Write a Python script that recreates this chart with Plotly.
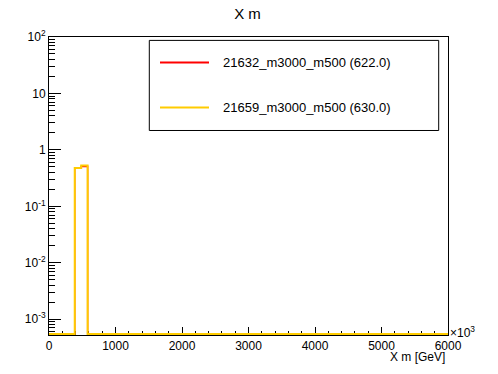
import math
import plotly.graph_objects as go

# ---- data ----
bin_edges = [0, 387, 484, 581, 6000]          # GeV
red_counts = [0, 0.477, 0.508, 0]             # 21632_m3000_m500
yellow_counts = [0, 0.477, 0.531, 0]          # 21659_m3000_m500
series_names = ["21632_m3000_m500 (622.0)", "21659_m3000_m500 (630.0)"]
series_colors = ["#ff0000", "#ffcc00"]
x_ticks = [0, 1000, 2000, 3000, 4000, 5000, 6000]
y_major = [1e-3, 1e-2, 1e-1, 1, 10, 100]
y_major_text = ["10<sup>-3</sup>", "10<sup>-2</sup>", "10<sup>-1</sup>", "1", "10", "10<sup>2</sup>"]

W, H = 498, 374
L, R, T, B = 49, 448, 37.3, 335
y_lo, y_hi = -3.279, 2.0
FONT = "Liberation Sans, Arial, Helvetica, sans-serif"

# zero bins are drawn at the bottom of the frame (ROOT log-scale style)
base = 10 ** (y_lo + 1.0 * (y_hi - y_lo) / (B - T))


def step_y(counts):
    ys = [c if c > 0 else base for c in counts]
    return ys + [ys[-1]]


def px(xp):
    return (xp - L) / (R - L)


def py(yp):
    return (B - yp) / (B - T)


fig = go.Figure()
for counts, color, name, lw in [(red_counts, series_colors[0], series_names[0], 1.4),
                                (yellow_counts, series_colors[1], series_names[1], 2)]:
    fig.add_trace(go.Scatter(x=bin_edges, y=step_y(counts), mode="lines",
                             line=dict(color=color, width=lw, shape="hv"),
                             name=name, showlegend=False, hoverinfo="skip"))

y_minor = []
for e in range(-4, 2):
    for m in range(2, 10):
        v = m * 10 ** e
        if 10 ** y_lo < v < 10 ** y_hi:
            y_minor.append(v)

fig.update_layout(
    width=W, height=H,
    margin=dict(l=L, r=W - R, t=T, b=H - B, pad=0, autoexpand=False),
    paper_bgcolor="white", plot_bgcolor="white",
    font=dict(family=FONT, size=12, color="black"),
    title=dict(text="X m", x=0.497, xanchor="center", y=1 - 14 / H, yanchor="middle",
               font=dict(family=FONT, size=15, color="black")),
    xaxis=dict(range=[0, 6000], showgrid=False, zeroline=False, automargin=False,
               showline=True, mirror=True, linecolor="black", linewidth=1,
               ticks="inside", ticklen=8, tickcolor="black", tickwidth=1,
               tickvals=x_ticks, ticktext=[str(v) for v in x_ticks],
               tickfont=dict(family=FONT, size=12, color="black"),
               minor=dict(dtick=200, ticks="inside", ticklen=4, tickcolor="black", showgrid=False),
               layer="below traces"),
    yaxis=dict(type="log", range=[y_lo, y_hi], showgrid=False, zeroline=False, automargin=False,
               showline=True, mirror=True, linecolor="black", linewidth=1,
               ticks="inside", ticklen=12, tickcolor="black", tickwidth=1,
               tickvals=y_major, ticktext=y_major_text,
               tickfont=dict(family=FONT, size=12, color="black"),
               minor=dict(tickvals=y_minor, ticks="inside", ticklen=6, tickcolor="black", showgrid=False),
               layer="below traces"),
)

# legend box (ROOT TLegend style)
fig.add_shape(type="rect", xref="paper", yref="paper",
              x0=px(149.3), x1=px(438.7), y0=py(130.7), y1=py(40.7),
              line=dict(color="black", width=1), fillcolor="white", layer="above")
for i, (name, color) in enumerate(zip(series_names, series_colors)):
    ycen = 62.7 + i * 45
    fig.add_shape(type="line", xref="paper", yref="paper",
                  x0=px(160), x1=px(209), y0=py(ycen), y1=py(ycen),
                  line=dict(color=color, width=2), layer="above")
    fig.add_annotation(xref="paper", yref="paper", x=px(221), y=py(ycen),
                       xanchor="left", yanchor="middle", showarrow=False, text=name,
                       font=dict(family=FONT, size=13, color="black"))

# axis title and exponent
fig.add_annotation(xref="paper", yref="paper", x=px(447), y=py(357),
                   xanchor="right", yanchor="middle", showarrow=False, text="X m [GeV]",
                   font=dict(family=FONT, size=12, color="black"))
fig.add_annotation(xref="paper", yref="paper", x=px(448), y=py(332),
                   xanchor="left", yanchor="middle", showarrow=False, text="×10<sup>3</sup>",
                   font=dict(family=FONT, size=12, color="black"))

fig.write_html("out.html", config={"displayModeBar": False, "staticPlot": True},
               post_script="document.body.style.margin='0';document.body.style.overflow='hidden';")
